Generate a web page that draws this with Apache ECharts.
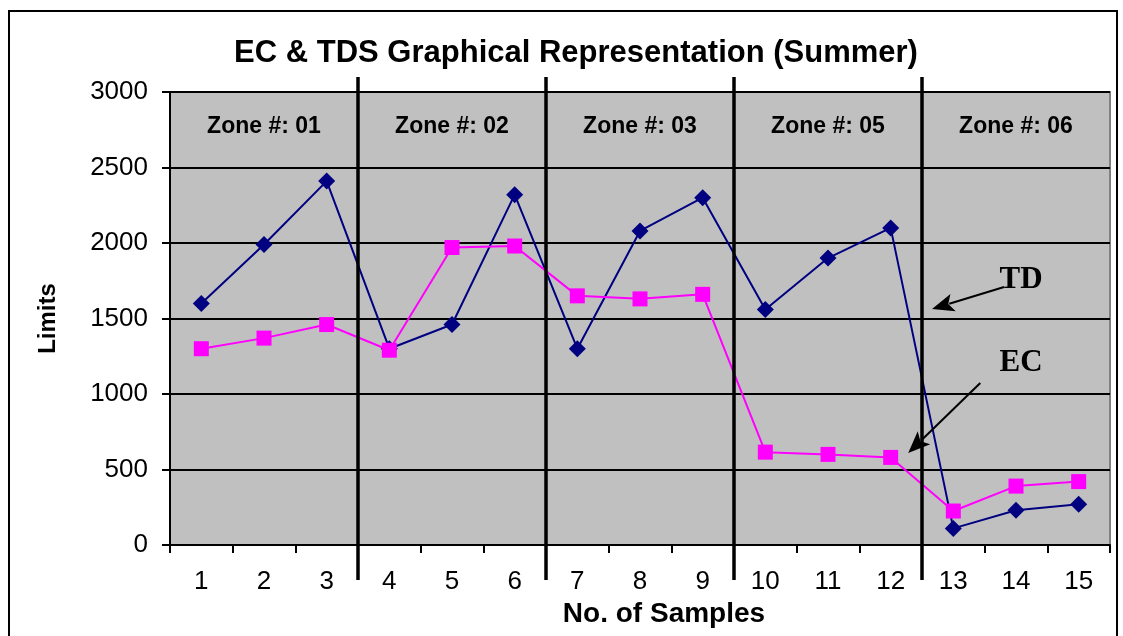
<!DOCTYPE html>
<html>
<head>
<meta charset="utf-8">
<script src="https://cdn.jsdelivr.net/npm/echarts@6/dist/echarts.min.js"></script>
<style>
  html, body { margin: 0; padding: 0; background: #fff; }
  #chart { width: 1123px; height: 636px; }
</style>
</head>
<body>
<div id="chart"></div>
<script>
// samples along x
const samples = ['1', '2', '3', '4', '5', '6', '7', '8', '9', '10', '11', '12', '13', '14', '15']
// TDS (navy diamonds) and EC (magenta squares)
const tdsValues = [1600, 1990, 2410, 1300, 1460, 2320, 1300, 2080, 2300, 1560, 1900, 2100, 110, 230, 270]
const ecValues = [1300, 1370, 1460, 1290, 1970, 1980, 1650, 1630, 1660, 615, 600, 580, 225, 390, 420]
const yTicks = [0, 500, 1000, 1500, 2000, 2500, 3000]

// zone dividers sit between samples (x on a 0.5..15.5 value scale)
const zoneDividers = [3.5, 6.5, 9.5, 12.5]
const zoneCenters = [2, 5, 8, 11, 14]
const zoneNames = ['Zone #: 01', 'Zone #: 02', 'Zone #: 03', 'Zone #: 05', 'Zone #: 06']
const zoneLabelY = 2770

// arrow annotations: [label, labelX, labelY, tailX, tailY, tipX, tipY]
const arrowNotes = [
    ['TD', 14.08, 1755, 13.81, 1709, 12.66, 1563],
    ['EC', 14.08, 1205, 13.43, 1073, 12.28, 609],
]

const SANS = "'Liberation Sans', Arial, sans-serif"
const SERIF = "'Liberation Serif', 'Times New Roman', serif"

const chart = echarts.init(document.getElementById('chart'))

chart.setOption({
    animation: false,
    textStyle: { fontFamily: SANS },
    title: {
        text: 'EC & TDS Graphical Representation (Summer)',
        left: 571,
        top: 33,
        textAlign: 'center',
        textStyle: { fontSize: 31, fontWeight: 'bold', color: '#000', fontFamily: SANS }
    },
    graphic: [{
        type: 'rect',
        shape: { x: 9, y: 11, width: 1108, height: 640 },
        style: { fill: 'none', stroke: '#000', lineWidth: 2 },
        silent: true, z: -1
    }],
    grid: {
        left: 170, right: 13, top: 92, bottom: 91,
        show: true,
        backgroundColor: '#c0c0c0',
        borderColor: '#808080',
        borderWidth: 2
    },
    xAxis: [{
        type: 'category',
        data: samples,
        boundaryGap: true,
        name: 'No. of Samples',
        nameLocation: 'middle',
        nameGap: 53,
        nameTextStyle: { fontSize: 28, fontWeight: 'bold', color: '#000', fontFamily: SANS, padding: [0, 0, 0, 48] },
        axisLine: { lineStyle: { color: '#000', width: 2 } },
        axisTick: { show: true, alignWithLabel: false, length: 8, lineStyle: { color: '#000', width: 2 } },
        axisLabel: { fontSize: 26, color: '#000', margin: 24, fontFamily: SANS },
        splitLine: { show: false }
    }, {
        type: 'value',
        min: 0.5,
        max: 15.5,
        show: false
    }],
    yAxis: {
        type: 'value',
        min: 0,
        max: 3000,
        interval: 500,
        name: 'Limits',
        nameLocation: 'middle',
        nameGap: 110,
        nameRotate: 90,
        nameTextStyle: { fontSize: 24, fontWeight: 'bold', color: '#000', fontFamily: SANS },
        axisLine: { show: true, lineStyle: { color: '#000', width: 2 } },
        axisTick: { show: true, length: 8, lineStyle: { color: '#000', width: 2 } },
        axisLabel: {
            fontSize: 26, color: '#000', margin: 22, fontFamily: SANS,
            formatter: v => (yTicks.includes(v) ? String(v) : '')
        },
        splitLine: { show: true, lineStyle: { color: '#000', width: 2 } }
    },
    series: [{
        name: 'TDS',
        type: 'line',
        data: tdsValues,
        symbol: 'diamond',
        symbolSize: 17,
        lineStyle: { color: '#000080', width: 2 },
        itemStyle: { color: '#000080' },
        z: 3
    }, {
        name: 'EC',
        type: 'line',
        data: ecValues,
        symbol: 'rect',
        symbolSize: 15,
        lineStyle: { color: '#ff00ff', width: 2 },
        itemStyle: { color: '#ff00ff' },
        z: 4
    }, {
        // thick zone dividers, running past the plot top and bottom
        type: 'custom',
        xAxisIndex: 1,
        clip: false,
        z: 6,
        silent: true,
        data: zoneDividers.map(x => [x]),
        renderItem: (params, api) => {
            const top = api.coord([api.value(0), 3000])
            const bottom = api.coord([api.value(0), 0])
            return {
                type: 'line',
                shape: { x1: top[0], y1: top[1] - 15, x2: bottom[0], y2: bottom[1] + 35 },
                style: { stroke: '#000', lineWidth: 3.5 }
            }
        }
    }, {
        type: 'custom',
        xAxisIndex: 1,
        clip: false,
        z: 6,
        silent: true,
        data: zoneCenters.map(x => [x, zoneLabelY]),
        renderItem: (params, api) => {
            const p = api.coord([api.value(0), api.value(1)])
            return {
                type: 'text',
                x: p[0], y: p[1],
                style: {
                    text: zoneNames[params.dataIndex],
                    fill: '#000',
                    font: `bold 23px ${SANS}`,
                    textAlign: 'center',
                    textVerticalAlign: 'middle'
                }
            }
        }
    }, {
        // TD / EC call-outs with arrows
        type: 'custom',
        xAxisIndex: 1,
        clip: false,
        z: 7,
        silent: true,
        data: arrowNotes.map(a => a.slice(1)),
        renderItem: (params, api) => {
            const note = arrowNotes[params.dataIndex]
            const lab = api.coord([note[1], note[2]])
            const tail = api.coord([note[3], note[4]])
            const tip = api.coord([note[5], note[6]])
            const dx = tip[0] - tail[0], dy = tip[1] - tail[1]
            const len = Math.hypot(dx, dy)
            const ux = dx / len, uy = dy / len
            const headLen = 22, headW = 9
            const bx = tip[0] - ux * headLen, by = tip[1] - uy * headLen
            return {
                type: 'group',
                children: [{
                    type: 'line',
                    shape: { x1: tail[0], y1: tail[1], x2: bx + ux * 4, y2: by + uy * 4 },
                    style: { stroke: '#000', lineWidth: 2 }
                }, {
                    type: 'polygon',
                    shape: {
                        points: [
                            [tip[0], tip[1]],
                            [bx - uy * headW, by + ux * headW],
                            [bx + ux * 5, by + uy * 5],
                            [bx + uy * headW, by - ux * headW]
                        ]
                    },
                    style: { fill: '#000' }
                }, {
                    type: 'text',
                    x: lab[0], y: lab[1],
                    style: {
                        text: note[0],
                        fill: '#000',
                        font: `bold 31px ${SERIF}`,
                        textAlign: 'center',
                        textVerticalAlign: 'middle'
                    }
                }]
            }
        }
    }]
})
</script>
</body>
</html>
